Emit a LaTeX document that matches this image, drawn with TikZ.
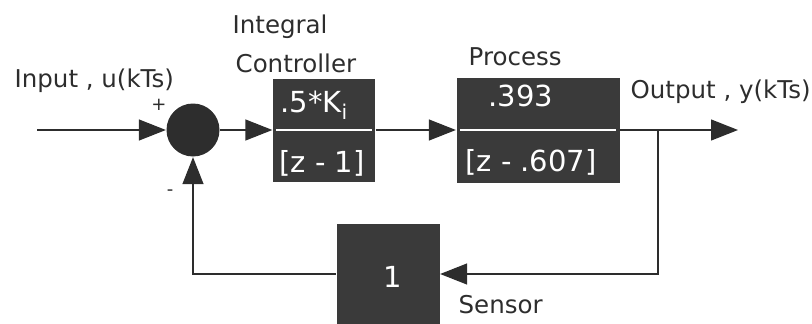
\documentclass[tikz,border=0pt]{standalone}
\usepackage{fontspec}
\setmainfont{DejaVu Sans}
\usetikzlibrary{arrows.meta}
\definecolor{linegray}{RGB}{45,45,45}
\definecolor{boxgray}{RGB}{58,58,58}
\begin{document}
\begin{tikzpicture}[x=1pt, y=-1pt, >={Triangle[length=27pt,width=21pt]}, line width=1.3pt, color=linegray,
  lbl/.style={font=\fontsize{24.5}{28}\selectfont, inner sep=0pt},
  sgn/.style={font=\fontsize{18}{20}\selectfont, inner sep=0pt},
  blockbox/.style={fill=boxgray, inner sep=0pt},
  wt/.style={font=\fontsize{29}{30}\selectfont, text=white, inner sep=0pt}]
\useasboundingbox (0,0) rectangle (812,324);

\node[circle, fill=linegray, minimum size=53pt, inner sep=0pt] (sum) at (193,130) {};
\node[blockbox, minimum width=102pt, minimum height=103pt] (ctrl) at (324,130) {};
\node[blockbox, minimum width=163pt, minimum height=105pt] (proc) at (538,130) {};
\node[blockbox, minimum width=103pt, minimum height=101pt] (sens) at (388,274) {};

\draw[white, line width=1.6pt] ([xshift=4pt]ctrl.west) -- ([xshift=-4pt]ctrl.east);
\draw[white, line width=1.6pt] ([xshift=4pt]proc.west) -- ([xshift=-4pt]proc.east);
\node[wt] (ctrlnum) at (314,105) {.5*K\textsubscript{i}};
\node[wt] (ctrlden) at (322,163) {[z - 1]};
\node[wt] (procnum) at (521,96) {.393};
\node[wt] (procden) at (531,162) {[z - .607]};
\node[wt] (gain) at (393,277) {1};

\node[lbl, anchor=base west] (inlbl) at (14,87) {Input , u(kTs)};
\node[sgn] (plus) at (159,105) {+};
\node[sgn] (minus) at (170,193) {-};
\node[lbl, anchor=base west] (ctrltop) at (232,33) {Integral};
\node[lbl, anchor=base west] (ctrlbot) at (235,72) {Controller};
\node[lbl, anchor=base west] (proclbl) at (468,65) {Process};
\node[lbl, anchor=base west] (outlbl) at (630,98) {Output , y(kTs)};
\node[lbl, anchor=base west] (senslbl) at (458,313) {Sensor};

\coordinate (in) at (37,130);
\coordinate (out) at (738,130);
\coordinate (branch) at (658,130);

\draw[->] (in) -- (sum);
\draw[->] (sum) -- (ctrl);
\draw[->] (ctrl) -- (proc);
\draw[->] (proc) -- (out);
\draw[->] (branch) |- (sens);
\draw[->] (sens) -| (sum);

\end{tikzpicture}
\end{document}
